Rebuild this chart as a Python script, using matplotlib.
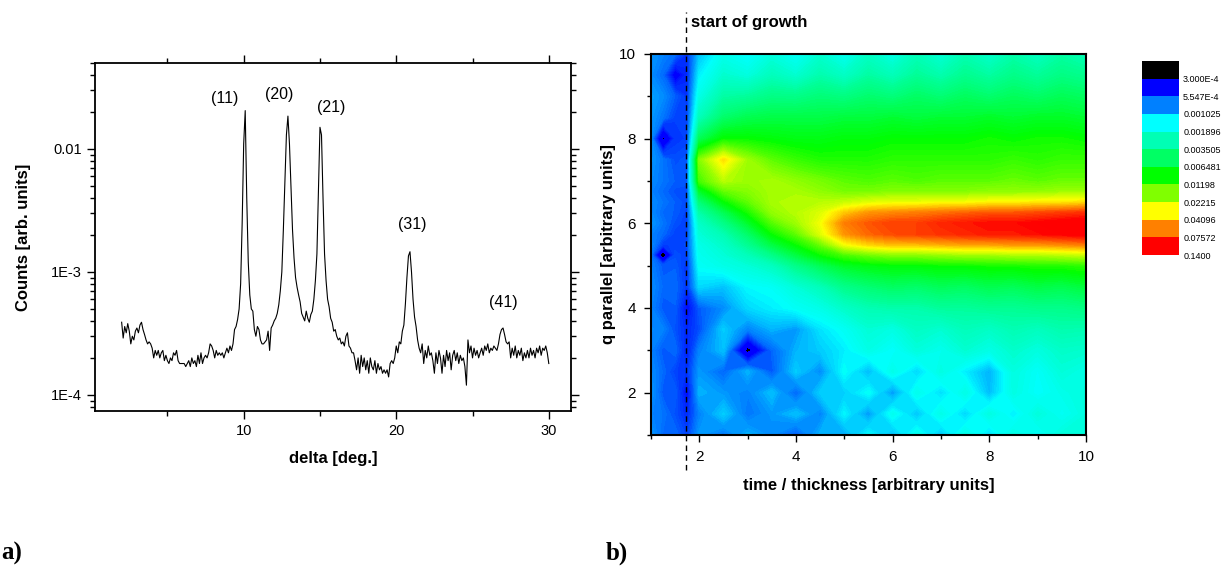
import numpy as np
import matplotlib
matplotlib.use('Agg')
import matplotlib.pyplot as plt
from matplotlib.colors import LinearSegmentedColormap, ListedColormap, BoundaryNorm
from matplotlib.cm import ScalarMappable
from matplotlib.ticker import FixedLocator, MultipleLocator, LogLocator, NullFormatter

plt.rcParams['font.family'] = ['Liberation Sans', 'DejaVu Sans']

# --- panel a) : scan, counts in units of 1E-4, delta from 2 to 30 deg in steps of 0.1
delta_start = 2.0
delta_step = 0.1
counts_e4 = [
    3.9, 2.9, 3.6, 3.2, 3.8, 3.3, 2.6, 3.0, 2.8, 3.3,   # 2.0 - 2.9
    3.5, 3.2, 3.7, 3.9, 3.4, 3.1, 2.8, 2.6, 2.7, 2.6,   # 3.0
    2.4, 2.0, 2.3, 2.1, 2.3, 2.0, 2.2, 2.3, 1.9, 2.1,   # 4.0
    1.9, 1.8, 2.0, 1.9, 2.2, 2.1, 2.3, 1.9, 1.8, 1.8,   # 5.0
    1.8, 1.8, 1.7, 1.8, 1.9, 1.7, 2.0, 1.8, 1.9, 1.7,   # 6.0
    2.1, 1.8, 2.2, 1.8, 2.0, 2.1, 2.0, 2.2, 2.6, 2.5,   # 7.0
    2.3, 2.0, 2.3, 2.1, 2.2, 2.1, 2.2, 2.0, 2.2, 2.4,   # 8.0
    2.2, 2.5, 2.3, 2.6, 3.4, 3.6, 4.1, 5.0, 8.0, 25,    # 9.0
    110, 205, 40, 12, 6.5, 5.0, 4.8, 3.4, 3.0, 3.6,     # 10.0
    3.4, 2.8, 2.6, 2.6, 2.7, 2.8, 3.3, 2.3, 3.5, 3.7,   # 11.0
    4.0, 4.2, 4.6, 5.4, 7.0, 10, 22, 55, 130, 185,      # 12.0
    110, 48, 22, 13, 9.0, 7.5, 6.5, 5.7, 4.6, 4.3,      # 13.0
    4.0, 4.8, 4.2, 3.9, 4.5, 4.8, 6.0, 8.5, 14, 45,     # 14.0
    150, 130, 40, 14, 8.5, 6.0, 5.2, 4.2, 3.9, 3.3,     # 15.0
    3.4, 3.0, 2.8, 2.9, 2.6, 2.7, 2.5, 3.0, 3.2, 2.5,   # 16.0
    2.4, 2.2, 2.2, 1.9, 1.6, 2.0, 1.5, 2.1, 1.7, 2.0,   # 17.0
    1.6, 1.9, 1.5, 2.0, 1.7, 1.6, 1.9, 1.5, 1.8, 1.6,   # 18.0
    1.7, 1.5, 1.6, 1.5, 1.6, 1.4, 1.8, 1.9, 1.8, 2.0,   # 19.0
    2.5, 2.2, 2.7, 2.6, 3.3, 3.7, 5.5, 9.0, 13.5, 14.6, # 20.0
    10, 6.0, 4.3, 3.6, 2.8, 2.4, 2.2, 2.6, 1.8, 2.3,    # 21.0
    2.0, 2.5, 2.1, 2.2, 1.9, 1.5, 2.2, 1.8, 2.3, 2.0,   # 22.0
    1.5, 2.1, 1.7, 2.3, 1.9, 2.2, 1.6, 2.1, 2.3, 1.9,   # 23.0
    2.2, 1.8, 2.1, 1.9, 2.0, 1.7, 1.2, 2.8, 2.2, 2.5,   # 24.0
    2.0, 2.4, 2.1, 2.3, 2.0, 2.2, 2.4, 2.1, 2.5, 2.3,   # 25.0
    2.6, 2.2, 2.4, 2.3, 2.5, 2.4, 2.3, 2.6, 3.1, 3.4,   # 26.0
    3.5, 3.1, 2.7, 2.6, 2.7, 2.0, 2.4, 2.1, 2.5, 2.0,   # 27.0
    2.3, 2.1, 2.4, 1.9, 2.2, 2.0, 2.3, 2.0, 2.4, 2.1,   # 28.0
    2.3, 2.0, 2.4, 2.2, 2.5, 2.1, 2.4, 2.3, 2.5, 2.2,   # 29.0
    1.8,                                                # 30.0
]
peak_names = ['(11)', '(20)', '(21)', '(31)', '(41)']
peak_label_x = [8.75, 12.35, 15.75, 21.05, 27.05]
peak_label_y = [0.0258, 0.0275, 0.0218, 2.44e-3, 5.6e-4]

# --- panel b) : intensity map, values in units of 1E-3
time_vals = [1.0, 1.25, 1.5, 1.75, 2.0, 2.5, 3.0, 3.5, 4.0, 4.5, 5.0, 5.5,
             6.0, 6.5, 7.0, 7.5, 8.0, 8.5, 9.0, 9.5, 10.0]
qpar_vals = [1.0, 1.5, 2.0, 2.5, 3.0, 3.5, 4.0, 4.5, 5.0, 5.25, 5.5, 5.75,
             6.0, 6.25, 6.5, 6.75, 7.0, 7.5, 8.0, 8.5, 9.0, 9.5, 10.0]
intensity_e3 = [
    [0.85, 0.67, 0.68, 0.56, 0.85, 0.71, 0.96, 0.80, 0.62, 0.96, 0.90, 1.40, 1.00, 1.60, 1.05, 1.70, 1.20, 1.75, 1.45, 1.85, 1.90],
    [0.76, 0.71, 0.60, 0.49, 0.76, 1.09, 0.71, 0.85, 1.02, 0.76, 1.35, 0.85, 1.55, 1.05, 1.65, 1.15, 1.75, 1.30, 1.85, 1.50, 1.80],
    [0.85, 0.62, 0.64, 0.41, 0.96, 0.85, 0.76, 1.02, 0.66, 1.09, 1.10, 1.45, 0.85, 1.60, 1.20, 1.70, 1.00, 1.75, 1.40, 1.65, 1.85],
    [0.80, 0.67, 0.56, 0.52, 0.85, 0.66, 0.96, 0.62, 1.09, 0.80, 1.45, 1.00, 1.65, 1.15, 1.75, 1.30, 0.95, 1.80, 1.45, 1.90, 1.70],
    [0.76, 0.62, 0.68, 0.46, 0.76, 1.02, 0.25, 0.66, 0.96, 1.09, 1.30, 1.70, 1.40, 1.85, 1.60, 2.00, 1.70, 2.10, 1.80, 2.15, 2.05],
    [0.80, 0.76, 0.60, 0.49, 0.59, 1.09, 0.76, 0.96, 0.85, 1.23, 1.50, 1.95, 1.75, 2.25, 2.00, 2.45, 2.20, 2.60, 2.35, 2.70, 2.60],
    [0.76, 0.62, 0.64, 0.41, 0.63, 0.80, 1.16, 1.31, 1.48, 1.68, 2.14, 2.58, 2.74, 2.74, 3.10, 3.10, 3.29, 3.29, 3.50, 3.50, 3.73],
    [0.80, 0.67, 0.68, 0.52, 1.16, 1.03, 1.39, 1.48, 1.90, 2.42, 3.50, 4.21, 4.76, 4.48, 5.06, 4.76, 5.38, 5.06, 5.73, 5.38, 6.09],
    [0.76, 0.62, 0.64, 0.52, 1.48, 1.68, 1.90, 2.28, 3.50, 5.06, 6.89, 7.79, 8.29, 8.29, 8.81, 8.81, 9.37, 9.37, 9.97, 9.97, 10.6],
    [0.71, 0.21, 0.60, 0.56, 1.58, 1.90, 2.42, 3.50, 5.73, 8.81, 12.0, 14.4, 16.3, 16.3, 17.3, 18.4, 18.4, 19.6, 19.6, 20.8, 22.2],
    [0.80, 0.55, 0.56, 0.59, 1.68, 2.14, 3.29, 5.73, 8.81, 14.4, 28.3, 36.2, 41.0, 41.0, 43.6, 46.3, 46.3, 49.3, 49.3, 52.4, 55.7],
    [0.76, 0.67, 0.56, 0.56, 1.90, 2.58, 4.48, 8.81, 13.5, 25.1, 49.3, 63.0, 71.2, 75.7, 80.5, 85.6, 91.0, 91.0, 96.8, 103, 110],
    [0.85, 0.71, 0.60, 0.56, 2.14, 3.50, 6.48, 12.7, 18.4, 28.3, 55.7, 67.0, 75.7, 75.7, 85.6, 91.0, 96.8, 96.8, 103, 110, 117],
    [0.80, 0.67, 0.64, 0.56, 2.74, 5.06, 9.37, 17.3, 20.8, 25.1, 38.5, 49.3, 52.4, 55.7, 59.2, 63.0, 67.0, 67.0, 71.2, 75.7, 80.5],
    [0.80, 0.71, 0.64, 0.59, 3.96, 8.29, 13.5, 19.6, 20.8, 20.8, 22.2, 25.1, 26.6, 26.6, 28.3, 28.3, 30.1, 30.1, 32.0, 32.0, 34.1],
    [0.76, 0.67, 0.60, 0.59, 6.48, 13.5, 16.3, 19.6, 19.6, 17.3, 15.3, 15.3, 16.3, 16.3, 16.3, 16.3, 17.3, 17.3, 17.3, 18.4, 18.4],
    [0.80, 0.71, 0.64, 0.63, 12.0, 20.8, 18.4, 19.6, 17.3, 15.3, 13.5, 12.7, 13.5, 12.7, 13.5, 13.5, 13.5, 14.4, 13.5, 14.4, 14.4],
    [0.85, 0.71, 0.60, 0.63, 16.3, 34.1, 18.4, 13.5, 11.3, 9.97, 9.97, 9.97, 10.6, 10.6, 10.6, 10.6, 10.6, 11.3, 10.6, 11.3, 11.3],
    [0.80, 0.27, 0.53, 0.56, 5.06, 8.81, 8.81, 8.29, 7.79, 7.79, 8.29, 8.29, 8.81, 8.81, 8.81, 8.81, 9.37, 8.81, 9.37, 9.37, 8.81],
    [0.85, 0.71, 0.56, 0.56, 2.42, 4.48, 5.38, 5.73, 5.73, 5.73, 6.09, 6.09, 6.48, 6.09, 6.48, 6.48, 6.89, 6.48, 6.89, 6.89, 6.48],
    [0.90, 0.80, 0.64, 0.52, 1.68, 2.90, 3.10, 3.70, 3.60, 4.10, 3.80, 4.40, 4.00, 4.70, 4.20, 4.90, 4.40, 5.00, 4.60, 5.20, 4.80],
    [0.80, 0.67, 0.36, 0.49, 1.31, 2.05, 1.80, 2.40, 2.00, 2.70, 2.20, 2.95, 2.45, 3.20, 2.70, 3.40, 2.95, 3.60, 3.15, 3.75, 3.40],
    [0.85, 0.76, 0.68, 0.52, 1.03, 1.60, 1.35, 1.80, 1.45, 2.00, 1.55, 2.20, 1.70, 2.45, 1.90, 2.60, 2.10, 2.75, 2.30, 2.90, 2.50],
]
growth_start = 1.72

# colour scale of the map
scale_levels = [3.000e-4, 5.547e-4, 0.001025, 0.001896, 0.003505, 0.006481,
                0.01198, 0.02215, 0.04096, 0.07572, 0.1400]
scale_labels = ['3.000E-4', '5.547E-4', '0.001025', '0.001896', '0.003505', '0.006481',
                '0.01198', '0.02215', '0.04096', '0.07572', '0.1400']
band_colors = ['#000000', '#0000ff', '#0080ff', '#00ffff', '#00ffb4', '#00ff64',
               '#00ff00', '#80ff00', '#ffff00', '#ff8000', '#ff0000']

fig = plt.figure(figsize=(12.22, 5.71), dpi=100)

# ---------------- panel a
ax1 = fig.add_axes([0.0777, 0.2802, 0.3895, 0.6095])
delta = np.round(delta_start + delta_step * np.arange(len(counts_e4)), 1)
counts = np.array(counts_e4) * 1e-4
ax1.plot(delta, counts, color='black', lw=0.8)
ax1.set_yscale('log')
ax1.set_xlim(0.25, 31.45)
ax1.set_ylim(7.4e-5, 0.05)
ax1.xaxis.set_major_locator(FixedLocator([10, 20, 30]))
ax1.xaxis.set_minor_locator(FixedLocator([5, 15, 25]))
ax1.yaxis.set_major_locator(FixedLocator([1e-4, 1e-3, 1e-2]))
ax1.yaxis.set_minor_locator(LogLocator(base=10, subs=np.arange(2, 10)))
ax1.yaxis.set_minor_formatter(NullFormatter())
ax1.set_yticklabels(['1E-4', '1E-3', '0.01'])
ax1.tick_params(which='both', direction='out', top=True, right=True, labelsize=10.5,
                width=1.0, colors='black')
ax1.tick_params(which='major', length=6)
ax1.tick_params(which='minor', length=3.5)
for s in ax1.spines.values():
    s.set_linewidth(1.3)
ax1.set_xlabel('delta [deg.]', fontsize=12, fontweight='bold', labelpad=9)
ax1.set_ylabel('Counts [arb. units]', fontsize=12, fontweight='bold', labelpad=14)
for name, lx, ly in zip(peak_names, peak_label_x, peak_label_y):
    ax1.text(lx, ly, name, fontsize=11.5, ha='center', va='center')

# ---------------- panel b
ax2 = fig.add_axes([0.5327, 0.2382, 0.356, 0.6673])
tx, qy = np.meshgrid(time_vals, qpar_vals)
logI = np.log10(np.array(intensity_e3) * 1e-3)
lo, hi = np.log10(scale_levels[0]), np.log10(scale_levels[-1])
smooth = LinearSegmentedColormap.from_list('origin', [
    (0.0, band_colors[1]), (0.05, band_colors[1]), (0.15, band_colors[2]),
    (0.25, band_colors[3]), (0.35, band_colors[4]), (0.45, band_colors[5]),
    (0.55, band_colors[6]), (0.65, band_colors[7]), (0.75, band_colors[8]),
    (0.85, band_colors[9]), (0.95, band_colors[10]), (1.0, band_colors[10])])
smooth.set_under('black')
cs = ax2.contourf(tx, qy, logI, levels=np.linspace(lo, hi, 121), cmap=smooth,
                  extend='min')
cs.set_edgecolor('face')
cs.set_linewidth(0.4)
ax2.set_xlim(1, 10)
ax2.set_ylim(1, 10)
ax2.xaxis.set_major_locator(MultipleLocator(2))
ax2.xaxis.set_minor_locator(MultipleLocator(1))
ax2.yaxis.set_major_locator(MultipleLocator(2))
ax2.yaxis.set_minor_locator(MultipleLocator(1))
ax2.tick_params(which='both', direction='out', labelsize=11, width=1.0)
ax2.tick_params(which='major', length=5, pad=6)
ax2.tick_params(which='minor', length=3)
for s in ax2.spines.values():
    s.set_linewidth(1.5)
ax2.set_xlabel('time / thickness [arbitrary units]', fontsize=12, fontweight='bold', labelpad=10)
ax2.set_ylabel('q parallel [arbitrary units]', fontsize=12, fontweight='bold', labelpad=2)
ax2.plot([growth_start, growth_start], [0.17, 11.0], color='black', lw=1.0,
         ls=(0, (4, 3)), clip_on=False)
ax2.text(growth_start + 0.11, 10.75, 'start of growth', fontsize=12, fontweight='bold',
         ha='left', va='center')

# ---------------- colour scale
cax = fig.add_axes([0.9345, 0.5534, 0.0303, 0.3398])
bounds = [scale_levels[0] / 1.849] + scale_levels
sm = ScalarMappable(norm=BoundaryNorm(bounds, len(band_colors)),
                    cmap=ListedColormap(band_colors))
cb = fig.colorbar(sm, cax=cax, ticks=scale_levels, spacing='uniform')
cb.outline.set_visible(False)
cax.minorticks_off()
cax.invert_yaxis()
cax.set_yticklabels(scale_labels)
cax.tick_params(which='both', length=0, labelsize=6.5, pad=3)

# panel letters
fig.text(1 / 1222, 1 - 553 / 571, 'a)', fontsize=18, fontweight='bold',
         family='Liberation Serif', ha='left', va='center')
fig.text(606 / 1222, 1 - 553 / 571, 'b)', fontsize=18, fontweight='bold',
         family='Liberation Serif', ha='left', va='center')

fig.savefig('out.png', dpi=100)
